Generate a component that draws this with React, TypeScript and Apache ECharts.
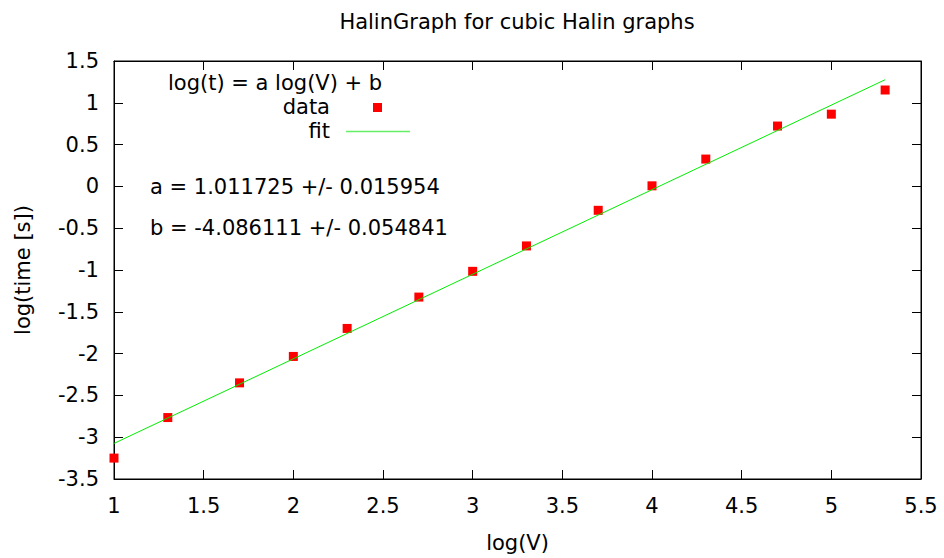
import React, { useEffect, useRef } from "react";
import * as echarts from "echarts";

const logV: number[] = [1.0, 1.3, 1.7, 2.0, 2.3, 2.7, 3.0, 3.3, 3.7, 4.0, 4.3, 4.7, 5.0, 5.3];
const logT: number[] = [-3.25, -2.765, -2.35, -2.034, -1.699, -1.324, -1.016, -0.712, -0.286, 0.007, 0.327, 0.722, 0.864, 1.153];
const fitA = 1.011725;
const fitB = -4.086111;
const titleText = "HalinGraph for cubic Halin graphs";
const legendTitle = "log(t) = a log(V) + b";
const textA = "a = 1.011725 +/- 0.015954";
const textB = "b = -4.086111 +/- 0.054841";
const xTicks = { min: 1, max: 5.5, step: 0.5 };
const yTicks = { min: -3.5, max: 1.5, step: 0.5 };

const FONT = "DejaVu Sans";

export default function App() {
  const ref = useRef<HTMLDivElement>(null);
  useEffect(() => {
    document.body.style.margin = "0";
    if (!ref.current) return;
    const chart = echarts.init(ref.current, undefined, { renderer: "svg" });
    const scatterData = logV.map((x, i) => [x, logT[i]]);
    const x0 = logV[0];
    const x1 = logV[logV.length - 1];
    const fitData = [
      [x0, fitA * x0 + fitB],
      [x1, fitA * x1 + fitB],
    ];
    const axisCommon = {
      axisLine: { show: true, onZero: false, lineStyle: { color: "#000", width: 1 } },
      axisTick: { show: true, inside: true, length: 9, lineStyle: { color: "#000", width: 1 } },
      splitLine: { show: false },
    };
    chart.setOption({
      animation: false,
      backgroundColor: "#fff",
      grid: { left: 114, top: 61, width: 807, height: 421, show: true, borderColor: "#000", borderWidth: 1, backgroundColor: "transparent" },
      xAxis: [
        {
          type: "value",
          min: xTicks.min,
          max: xTicks.max,
          interval: xTicks.step,
          position: "bottom",
          ...axisCommon,
          axisLabel: { color: "#000", fontSize: 21, fontFamily: FONT, margin: 16 },
          name: "log(V)",
          nameLocation: "middle",
          nameGap: 53,
          nameTextStyle: { color: "#000", fontSize: 21, fontFamily: FONT },
        },
        {
          type: "value",
          min: xTicks.min,
          max: xTicks.max,
          interval: xTicks.step,
          position: "top",
          ...axisCommon,
          axisLabel: { show: false },
        },
      ],
      yAxis: [
        {
          type: "value",
          min: yTicks.min,
          max: yTicks.max,
          interval: yTicks.step,
          position: "left",
          ...axisCommon,
          axisLabel: { color: "#000", fontSize: 21, fontFamily: FONT, margin: 15 },
          name: "log(time [s])",
          nameLocation: "middle",
          nameGap: 81,
          nameRotate: 90,
          nameTextStyle: { color: "#000", fontSize: 21, fontFamily: FONT },
        },
        {
          type: "value",
          min: yTicks.min,
          max: yTicks.max,
          interval: yTicks.step,
          position: "right",
          ...axisCommon,
          axisLabel: { show: false },
        },
      ],
      series: [
        {
          name: "data",
          type: "scatter",
          data: scatterData,
          symbol: "rect",
          symbolSize: 9,
          itemStyle: { color: "#ff0000", opacity: 1 },
          z: 2,
        },
        {
          name: "fit",
          type: "line",
          data: fitData,
          showSymbol: false,
          symbol: "none",
          lineStyle: { color: "#00ee00", width: 1 },
          z: 3,
        },
      ],
      graphic: [
        {
          type: "text",
          x: 517,
          y: 22,
          style: { text: titleText, fill: "#000", font: `21px "${FONT}"`, textAlign: "center", textVerticalAlign: "middle" },
        },
        {
          type: "text",
          x: 168,
          y: 83,
          style: { text: legendTitle, fill: "#000", font: `21px "${FONT}"`, textAlign: "left", textVerticalAlign: "middle" },
        },
        {
          type: "text",
          x: 330,
          y: 107,
          style: { text: "data", fill: "#000", font: `21px "${FONT}"`, textAlign: "right", textVerticalAlign: "middle" },
        },
        {
          type: "rect",
          shape: { x: 373, y: 103, width: 9, height: 9 },
          style: { fill: "#ff0000" },
        },
        {
          type: "text",
          x: 330,
          y: 131,
          style: { text: "fit", fill: "#000", font: `21px "${FONT}"`, textAlign: "right", textVerticalAlign: "middle" },
        },
        {
          type: "line",
          shape: { x1: 346, y1: 131.5, x2: 410, y2: 131.5 },
          style: { stroke: "#66ee66", lineWidth: 1.5 },
        },
        {
          type: "text",
          x: 150,
          y: 187,
          style: { text: textA, fill: "#000", font: `21px "${FONT}"`, textAlign: "left", textVerticalAlign: "middle" },
        },
        {
          type: "text",
          x: 150,
          y: 228,
          style: { text: textB, fill: "#000", font: `21px "${FONT}"`, textAlign: "left", textVerticalAlign: "middle" },
        },
      ],
    });
    return () => chart.dispose();
  }, []);
  return <div ref={ref} style={{ width: 944, height: 558 }} />;
}
